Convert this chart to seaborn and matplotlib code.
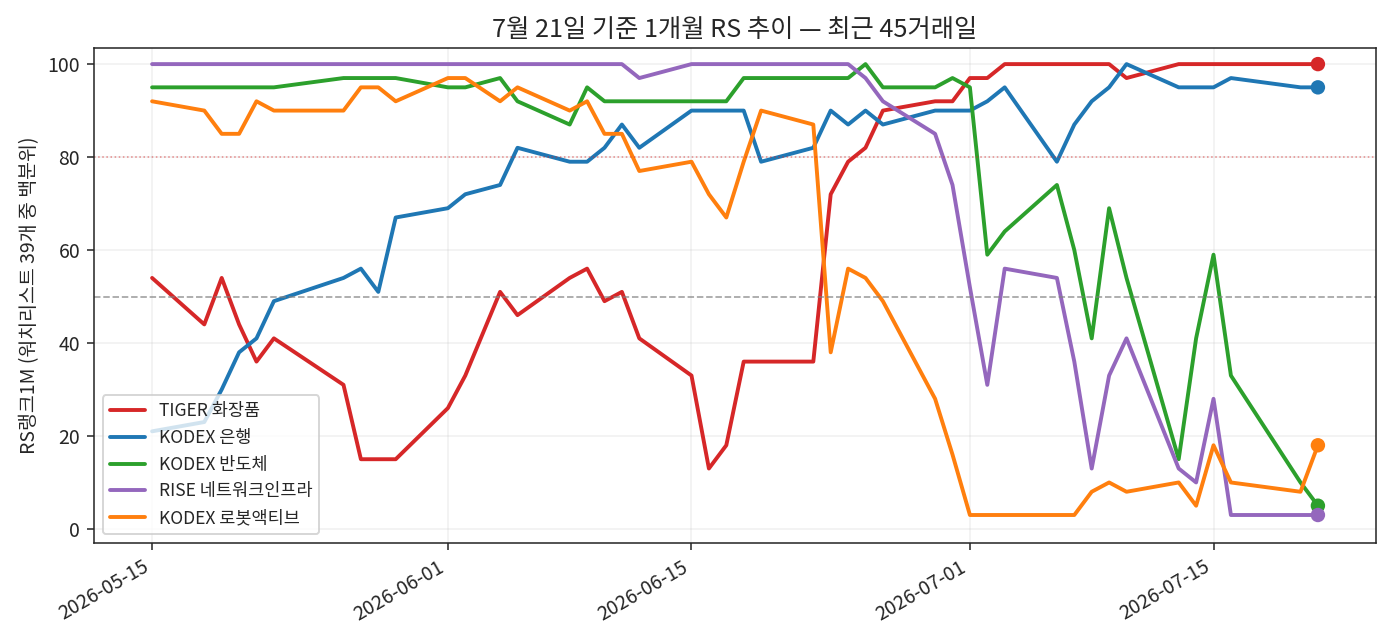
import numpy as np
import pandas as pd
import matplotlib
matplotlib.use("Agg")
import matplotlib.pyplot as plt
import matplotlib.dates as mdates
import seaborn as sns

# trading days (KRX holidays 5/25, 6/3, 7/17 skipped)
holidays = ["2026-05-25", "2026-06-03", "2026-07-17"]
dates = pd.bdate_range("2026-05-15", "2026-07-21", freq="C", holidays=holidays)

names = ["TIGER 화장품", "KODEX 은행", "KODEX 반도체", "RISE 네트워크인프라", "KODEX 로봇액티브"]
colors = ["#d62728", "#1f77b4", "#2ca02c", "#9467bd", "#ff7f0e"]

tiger_cosmetics = [54, 44, 54, 44, 36, 41, 31, 15, 15, 15,
                   26, 33, 51, 46, 54, 56, 49, 51, 41, 33,
                   13, 18, 36, 36, 36, 72, 79, 82, 90, 92,
                   92, 97, 97, 100, 100, 100, 100, 100, 97, 100,
                   100, 100, 100, 100, 100]
kodex_bank = [21, 23, 30, 38, 41, 49, 54, 56, 51, 67,
              69, 72, 74, 82, 79, 79, 82, 87, 82, 90,
              90, 90, 90, 79, 82, 90, 87, 90, 87, 90,
              90, 90, 92, 95, 79, 87, 92, 95, 100, 95,
              95, 95, 97, 95, 95]
kodex_semi = [95, 95, 95, 95, 95, 95, 97, 97, 97, 97,
              95, 95, 97, 92, 87, 95, 92, 92, 92, 92,
              92, 92, 97, 97, 97, 97, 97, 100, 95, 95,
              97, 95, 59, 64, 74, 60, 41, 69, 54, 15,
              41, 59, 33, 10, 5]
rise_network = [100, 100, 100, 100, 100, 100, 100, 100, 100, 100,
                100, 100, 100, 100, 100, 100, 100, 100, 97, 100,
                100, 100, 100, 100, 100, 100, 100, 97, 92, 85,
                74, 52, 31, 56, 54, 36, 13, 33, 41, 13,
                10, 28, 3, 3, 3]
kodex_robot = [92, 90, 85, 85, 92, 90, 90, 95, 95, 92,
               97, 97, 92, 95, 90, 92, 85, 85, 77, 79,
               72, 67, 79, 90, 87, 38, 56, 54, 49, 28,
               16, 3, 3, 3, 3, 3, 8, 10, 8, 10,
               5, 18, 10, 8, 18]

series = [tiger_cosmetics, kodex_bank, kodex_semi, rise_network, kodex_robot]
df = pd.concat(
    [pd.DataFrame({"date": dates, "rs": vals, "name": n}) for n, vals in zip(names, series)],
    ignore_index=True,
)
palette = dict(zip(names, colors))

sns.set_style("ticks")
plt.rcParams["font.family"] = ["Noto Sans CJK KR", "DejaVu Sans"]
plt.rcParams["axes.unicode_minus"] = False

fig, ax = plt.subplots(figsize=(10, 4.6), dpi=140)
sns.lineplot(data=df, x="date", y="rs", hue="name", hue_order=names,
             palette=palette, linewidth=2, ax=ax)
last = df[df["date"] == dates[-1]]
sns.scatterplot(data=last, x="date", y="rs", hue="name", hue_order=names,
                palette=palette, s=55, edgecolor="none", legend=False, ax=ax, zorder=5)

ax.axhline(80, color="#d62728", linestyle=":", linewidth=0.8, alpha=0.5)
ax.axhline(50, color="gray", linestyle="--", linewidth=0.9, alpha=0.7)
ax.grid(alpha=0.3)
ax.set_ylim(-3, 103.4)
ax.set_xlabel("")
ax.set_ylabel("RS랭크1M (워치리스트 39개 중 백분위)")
ax.set_title("7월 21일 기준 1개월 RS 추이 — 최근 45거래일", fontsize=13)
ax.xaxis.set_major_locator(mdates.DayLocator(bymonthday=[1, 15]))
ax.xaxis.set_major_formatter(mdates.DateFormatter("%Y-%m-%d"))
for lab in ax.get_xticklabels():
    lab.set_rotation(30)
    lab.set_ha("right")
ax.legend(loc="lower left", fontsize=9, title=None)

fig.subplots_adjust(left=0.067, right=0.983, top=0.925, bottom=0.157)
fig.savefig("out.png")
